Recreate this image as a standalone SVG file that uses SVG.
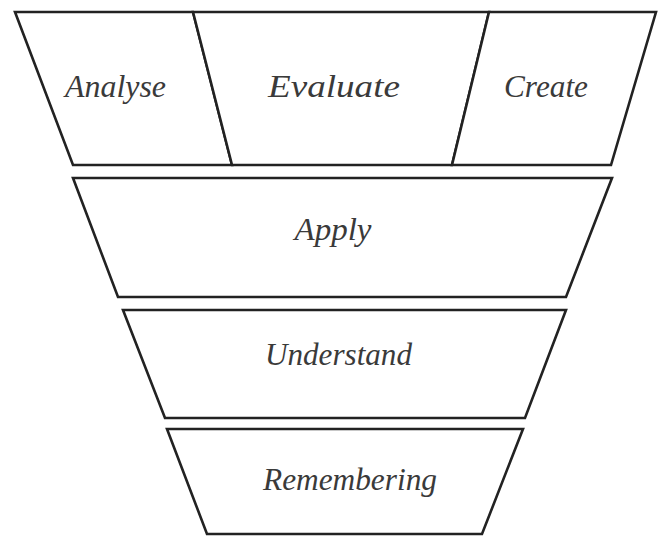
<svg xmlns="http://www.w3.org/2000/svg" width="658" height="537" viewBox="0 0 658 537">
<style>
.band{fill:#fff;stroke:#222;stroke-width:2.6;stroke-linejoin:miter}
.lbl{font-family:"Liberation Serif","Times New Roman",serif;font-style:italic;font-size:31px;fill:#3a3a3a;text-anchor:middle}
</style>
<rect width="658" height="537" fill="#fff"/>
<g id="analyse"><polygon class="band" points="15,12 193,12 232,165 73,165"/><text class="lbl" x="115.5" y="97" textLength="101" lengthAdjust="spacingAndGlyphs">Analyse</text></g>
<g id="evaluate"><polygon class="band" points="193,12 489,12 452,165 232,165"/><text class="lbl" x="334" y="97" textLength="132" lengthAdjust="spacingAndGlyphs">Evaluate</text></g>
<g id="create"><polygon class="band" points="489,12 656,12 611,165 452,165"/><text class="lbl" x="546" y="97" textLength="84" lengthAdjust="spacingAndGlyphs">Create</text></g>
<g id="apply"><polygon class="band" points="73,178 612,178 566,297 118,297"/><text class="lbl" x="333" y="240" textLength="77" lengthAdjust="spacingAndGlyphs">Apply</text></g>
<g id="understand"><polygon class="band" points="123,310 566,310 525,418 165,418"/><text class="lbl" x="338.5" y="365" textLength="147" lengthAdjust="spacingAndGlyphs">Understand</text></g>
<g id="remembering"><polygon class="band" points="167,429 523,429 482,534 207,534"/><text class="lbl" x="350" y="490" textLength="174" lengthAdjust="spacingAndGlyphs">Remembering</text></g>
</svg>
